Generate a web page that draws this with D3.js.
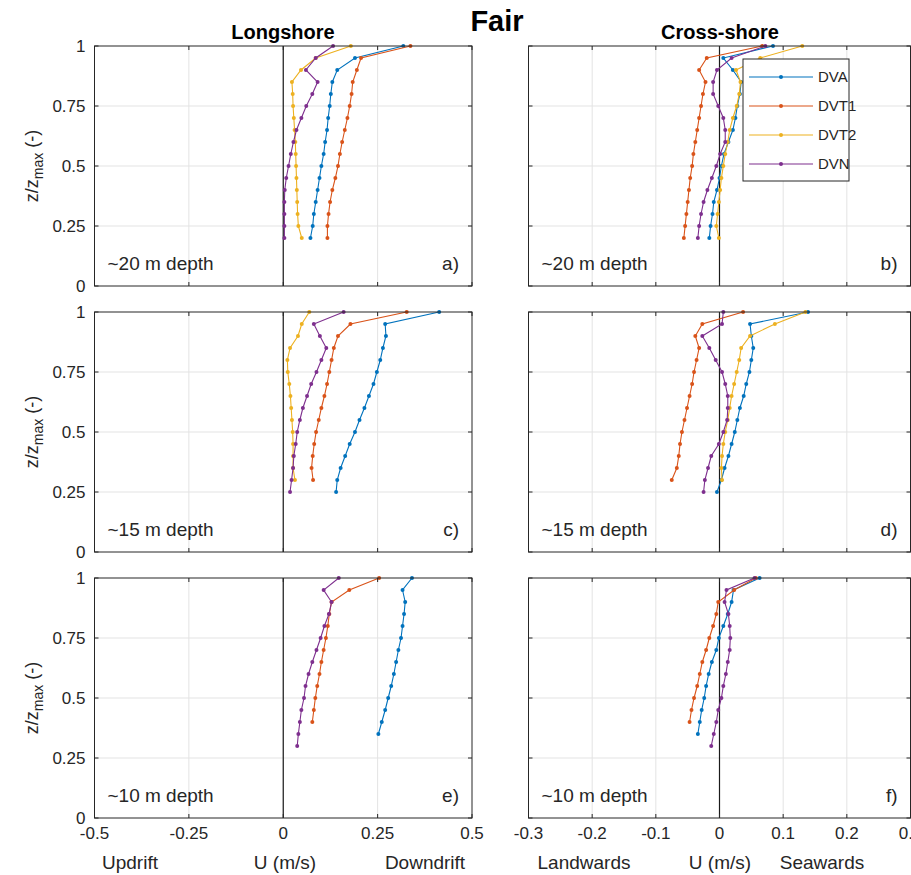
<!DOCTYPE html>
<html>
<head>
<meta charset="utf-8">
<script src="https://cdn.jsdelivr.net/npm/d3@7"></script>
<style>
  body { margin: 0; background: #fff; }
  svg { display: block; font-family: "Liberation Sans", Arial, sans-serif; }
  .grid line { stroke: #e3e3e3; stroke-width: 1; }
  .frame { fill: none; stroke: #262626; stroke-width: 1; }
  .zero { stroke: #1a1a1a; stroke-width: 1.2; }
  .tick { stroke: #262626; stroke-width: 1; }
  .lbl { fill: #262626; font-size: 17px; }
</style>
</head>
<body>
<div id="chart"></div>
<script>
// ===== Data =====
const seriesNames = ["DVA", "DVT1", "DVT2", "DVN"];
const seriesColors = ["#0072BD", "#D95319", "#EDB120", "#7E2F8E"];

// z/zmax levels, top to bottom
const zLevels = [1, 0.95, 0.9, 0.85, 0.8, 0.75, 0.7, 0.65, 0.6, 0.55, 0.5, 0.45, 0.4, 0.35, 0.3, 0.25, 0.2];

const yTicks = [0, 0.25, 0.5, 0.75, 1];
const yTickLabels = ["0", "0.25", "0.5", "0.75", "1"];
const xTicksLong = [-0.5, -0.25, 0, 0.25, 0.5];
const xTickLabelsLong = ["-0.5", "-0.25", "0", "0.25", "0.5"];
const xTicksCross = [-0.3, -0.2, -0.1, 0, 0.1, 0.2, 0.3];
const xTickLabelsCross = ["-0.3", "-0.2", "-0.1", "0", "0.1", "0.2", "0.3"];

// a) longshore ~20 m
const aDVA  = [0.318, 0.190, 0.143, 0.130, 0.126, 0.123, 0.119, 0.116, 0.111, 0.107, 0.101, 0.096, 0.091, 0.086, 0.081, 0.078, 0.072];
const aDVT1 = [0.337, 0.206, 0.195, 0.184, 0.181, 0.176, 0.170, 0.163, 0.156, 0.150, 0.145, 0.138, 0.130, 0.124, 0.120, 0.117, 0.117];
const aDVT2 = [0.179, 0.086, 0.047, 0.023, 0.025, 0.026, 0.028, 0.030, 0.032, 0.033, 0.034, 0.035, 0.036, 0.037, 0.038, 0.040, 0.049];
const aDVN  = [0.132, 0.086, 0.060, 0.091, 0.077, 0.061, 0.048, 0.035, 0.027, 0.020, 0.014, 0.008, 0.004, 0.003, 0.003, 0.003, 0.003];

// b) cross-shore ~20 m
const bDVA  = [0.084, 0.006, 0.021, 0.034, 0.032, 0.028, 0.025, 0.021, 0.014, 0.007, 0.003, 0.000, -0.004, -0.009, -0.011, -0.014, -0.016];
const bDVT1 = [0.067, -0.020, -0.032, -0.022, -0.026, -0.029, -0.032, -0.035, -0.038, -0.041, -0.043, -0.046, -0.048, -0.050, -0.052, -0.054, -0.056];
const bDVT2 = [0.130, 0.064, 0.026, 0.033, 0.031, 0.027, 0.021, 0.016, 0.013, 0.009, 0.006, 0.003, 0.001, -0.001, -0.003, -0.005, -0.001];
const bDVN  = [0.072, 0.019, -0.004, -0.010, -0.010, -0.002, 0.006, 0.009, 0.009, 0.001, -0.005, -0.012, -0.019, -0.025, -0.029, -0.032, -0.034];

// c) longshore ~15 m
const cDVA  = [0.413, 0.270, 0.272, 0.264, 0.257, 0.248, 0.239, 0.227, 0.215, 0.202, 0.190, 0.176, 0.164, 0.152, 0.143, 0.140];
const cDVT1 = [0.327, 0.178, 0.145, 0.134, 0.128, 0.122, 0.116, 0.109, 0.101, 0.094, 0.087, 0.082, 0.078, 0.075, 0.079];
const cDVT2 = [0.069, 0.049, 0.039, 0.018, 0.011, 0.012, 0.016, 0.019, 0.021, 0.023, 0.025, 0.026, 0.026, 0.026, 0.031];
const cDVN  = [0.160, 0.081, 0.097, 0.114, 0.101, 0.088, 0.074, 0.063, 0.052, 0.044, 0.037, 0.033, 0.028, 0.026, 0.022, 0.018];

// d) cross-shore ~15 m
const dDVA  = [0.139, 0.048, 0.050, 0.053, 0.050, 0.047, 0.042, 0.038, 0.032, 0.028, 0.024, 0.019, 0.014, 0.008, 0.003, -0.004];
const dDVT1 = [0.037, -0.027, -0.038, -0.032, -0.036, -0.040, -0.043, -0.047, -0.051, -0.055, -0.059, -0.062, -0.064, -0.067, -0.075];
const dDVT2 = [0.135, 0.087, 0.048, 0.034, 0.031, 0.027, 0.023, 0.019, 0.016, 0.013, 0.009, 0.006, 0.004, 0.003, 0.004];
const dDVN  = [0.006, 0.004, -0.027, -0.016, -0.006, 0.004, 0.009, 0.013, 0.013, 0.012, 0.006, -0.001, -0.013, -0.018, -0.023, -0.025];

// e) longshore ~10 m (no DVT2)
const eDVA  = [0.341, 0.316, 0.323, 0.320, 0.316, 0.312, 0.305, 0.299, 0.293, 0.286, 0.278, 0.270, 0.261, 0.252];
const eDVT1 = [0.254, 0.175, 0.128, 0.122, 0.118, 0.113, 0.107, 0.101, 0.096, 0.090, 0.085, 0.081, 0.077];
const eDVN  = [0.147, 0.107, 0.128, 0.121, 0.109, 0.099, 0.088, 0.077, 0.067, 0.059, 0.055, 0.048, 0.044, 0.040, 0.037];

// f) cross-shore ~10 m (no DVT2)
const fDVA  = [0.063, 0.022, 0.019, 0.013, 0.006, -0.001, -0.005, -0.012, -0.017, -0.021, -0.024, -0.028, -0.031, -0.034];
const fDVT1 = [0.057, 0.023, -0.002, -0.005, -0.010, -0.016, -0.021, -0.027, -0.031, -0.035, -0.040, -0.044, -0.047];
const fDVN  = [0.055, 0.011, 0.008, 0.014, 0.016, 0.017, 0.016, 0.013, 0.010, 0.006, 0.003, -0.002, -0.005, -0.009, -0.013];

// ===== Layout =====
const W = 911, H = 875;
const colX = [{ x0: 94.5, x1: 472 }, { x0: 528.5, x1: 910.5 }];
const rowTop = [46, 312, 578];
const PH = 240;

const svg = d3.select("#chart").append("svg")
  .attr("width", W).attr("height", H);

svg.append("rect").attr("width", W).attr("height", H).attr("fill", "#fff");

function drawPanel(row, col, lines, depthLabel, letter) {
  const c = colX[col];
  const long = col === 0;
  const x = d3.scaleLinear().domain(long ? [-0.5, 0.5] : [-0.3, 0.3]).range([c.x0, c.x1]);
  const y = d3.scaleLinear().domain([0, 1]).range([rowTop[row] + PH, rowTop[row]]);
  const xt = long ? xTicksLong : xTicksCross;
  const g = svg.append("g");

  // grid
  const grid = g.append("g").attr("class", "grid");
  grid.selectAll(".gx").data(xt.slice(1, -1)).enter().append("line")
    .attr("x1", d => x(d)).attr("x2", d => x(d))
    .attr("y1", y(0)).attr("y2", y(1));
  grid.selectAll(".gy").data(yTicks.slice(1, -1)).enter().append("line")
    .attr("x1", c.x0).attr("x2", c.x1)
    .attr("y1", d => y(d)).attr("y2", d => y(d));

  // zero line
  g.append("line").attr("class", "zero")
    .attr("x1", x(0)).attr("x2", x(0)).attr("y1", y(0)).attr("y2", y(1));

  // series
  lines.forEach(s => {
    const pts = s.vals.map((v, i) => [v, zLevels[i]]);
    g.append("path")
      .attr("d", d3.line().x(d => x(d[0])).y(d => y(d[1]))(pts))
      .attr("fill", "none")
      .attr("stroke", s.color)
      .attr("stroke-width", 1.1);
    g.selectAll(null).data(pts).enter().append("circle")
      .attr("cx", d => x(d[0])).attr("cy", d => y(d[1]))
      .attr("r", 2).attr("fill", s.color);
  });

  // frame + inward ticks
  g.append("rect").attr("class", "frame")
    .attr("x", c.x0).attr("y", y(1)).attr("width", c.x1 - c.x0).attr("height", PH);
  const tl = 4;
  xt.forEach(t => {
    g.append("line").attr("class", "tick").attr("x1", x(t)).attr("x2", x(t)).attr("y1", y(0)).attr("y2", y(0) - tl);
    g.append("line").attr("class", "tick").attr("x1", x(t)).attr("x2", x(t)).attr("y1", y(1)).attr("y2", y(1) + tl);
  });
  yTicks.forEach(t => {
    g.append("line").attr("class", "tick").attr("x1", c.x0).attr("x2", c.x0 + tl).attr("y1", y(t)).attr("y2", y(t));
    g.append("line").attr("class", "tick").attr("x1", c.x1).attr("x2", c.x1 - tl).attr("y1", y(t)).attr("y2", y(t));
  });

  // y tick labels + axis label (left column only)
  if (long) {
    g.selectAll(".yl").data(yTicks).enter().append("text")
      .attr("class", "lbl")
      .attr("x", c.x0 - 9).attr("y", d => y(d) + 6)
      .attr("text-anchor", "end")
      .text((d, i) => yTickLabels[i]);
    const yl = g.append("text").attr("class", "lbl").style("font-size", "18px")
      .attr("transform", `translate(38,${rowTop[row] + PH / 2}) rotate(-90)`)
      .attr("text-anchor", "middle");
    yl.append("tspan").text("z/z");
    yl.append("tspan").attr("dy", 5).style("font-size", "14px").text("max");
    yl.append("tspan").attr("dy", -5).text(" (-)");
  }

  // bottom row tick labels
  if (row === 2) {
    const lab = long ? xTickLabelsLong : xTickLabelsCross;
    g.selectAll(".xl").data(xt).enter().append("text")
      .attr("class", "lbl")
      .attr("x", d => x(d)).attr("y", y(0) + 21)
      .attr("text-anchor", "middle")
      .text((d, i) => lab[i]);
  }

  // panel annotations
  g.append("text").attr("class", "lbl").style("font-size", "19px")
    .attr("x", c.x0 + 13).attr("y", y(0) - 16).text(depthLabel);
  g.append("text").attr("class", "lbl").style("font-size", "19px")
    .attr("x", c.x1 - 13).attr("y", y(0) - 16).attr("text-anchor", "end").text(letter);
}

function mk(vals, k) {
  return { vals, color: seriesColors[k] };
}

drawPanel(0, 0, [mk(aDVA, 0), mk(aDVT1, 1), mk(aDVT2, 2), mk(aDVN, 3)], "~20 m depth", "a)");
drawPanel(0, 1, [mk(bDVA, 0), mk(bDVT1, 1), mk(bDVT2, 2), mk(bDVN, 3)], "~20 m depth", "b)");
drawPanel(1, 0, [mk(cDVA, 0), mk(cDVT1, 1), mk(cDVT2, 2), mk(cDVN, 3)], "~15 m depth", "c)");
drawPanel(1, 1, [mk(dDVA, 0), mk(dDVT1, 1), mk(dDVT2, 2), mk(dDVN, 3)], "~15 m depth", "d)");
drawPanel(2, 0, [mk(eDVA, 0), mk(eDVT1, 1), mk(eDVN, 3)], "~10 m depth", "e)");
drawPanel(2, 1, [mk(fDVA, 0), mk(fDVT1, 1), mk(fDVN, 3)], "~10 m depth", "f)");

// ===== Titles =====
svg.append("text").attr("x", 497).attr("y", 31).attr("text-anchor", "middle")
  .style("font-size", "29px").style("font-weight", "bold").style("fill", "#000").text("Fair");
svg.append("text").attr("x", 283).attr("y", 39).attr("text-anchor", "middle")
  .style("font-size", "20px").style("font-weight", "bold").style("fill", "#000").text("Longshore");
svg.append("text").attr("x", 720).attr("y", 39).attr("text-anchor", "middle")
  .style("font-size", "20px").style("font-weight", "bold").style("fill", "#000").text("Cross-shore");

// ===== Bottom axis captions =====
const capLong = [["Updrift", 130], ["U (m/s)", 285], ["Downdrift", 425]];
const capCross = [["Landwards", 584], ["U (m/s)", 720], ["Seawards", 822]];
capLong.concat(capCross).forEach(([t, cx]) => {
  svg.append("text").attr("class", "lbl").attr("x", cx).attr("y", 869)
    .attr("text-anchor", "middle").style("font-size", "19px").text(t);
});

// ===== Legend =====
const leg = svg.append("g");
leg.append("rect").attr("x", 743).attr("y", 59).attr("width", 106).attr("height", 122)
  .attr("fill", "#fff").attr("stroke", "#262626").attr("stroke-width", 1);
seriesNames.forEach((n, i) => {
  const ly = 77 + i * 29;
  leg.append("line").attr("x1", 749).attr("x2", 813).attr("y1", ly).attr("y2", ly)
    .attr("stroke", seriesColors[i]).attr("stroke-width", 1.1);
  leg.append("circle").attr("cx", 781).attr("cy", ly).attr("r", 2).attr("fill", seriesColors[i]);
  leg.append("text").attr("class", "lbl").style("font-size", "15px")
    .attr("x", 818).attr("y", ly + 5).text(n);
});
</script>
</body>
</html>
